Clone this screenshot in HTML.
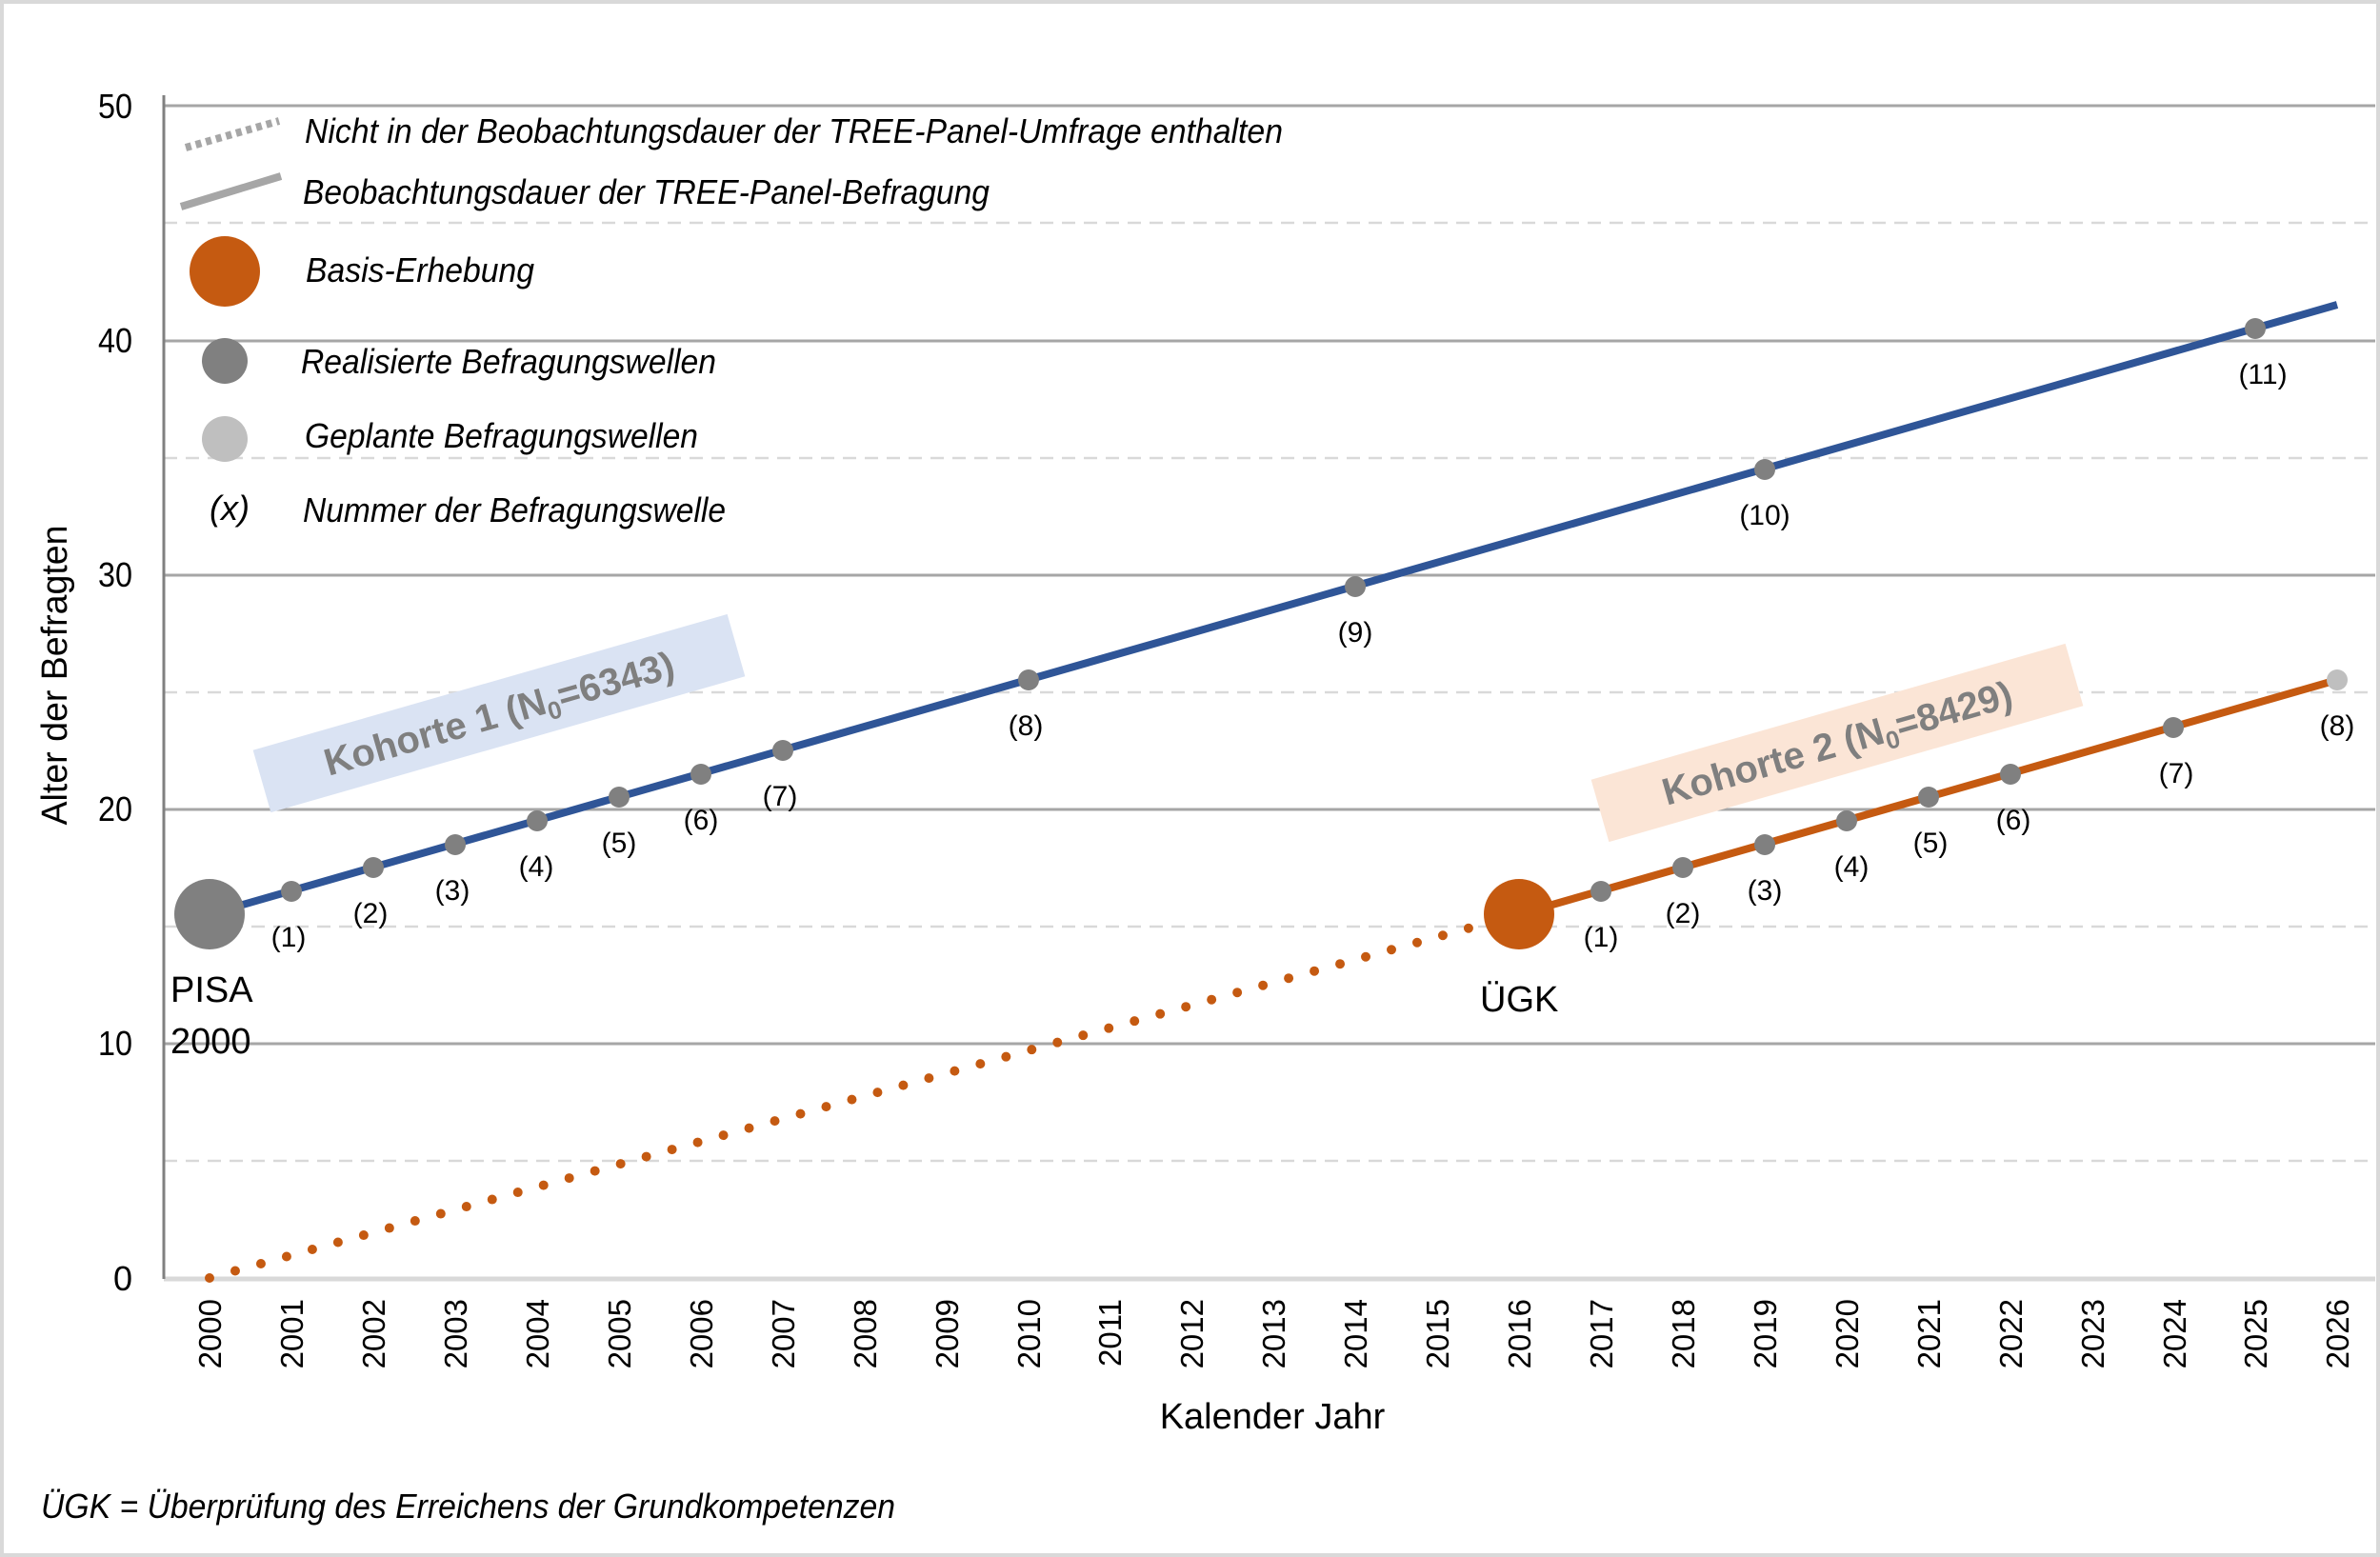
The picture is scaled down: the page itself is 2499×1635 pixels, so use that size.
<!DOCTYPE html>
<html><head><meta charset="utf-8"><style>
html,body{margin:0;padding:0;background:#fff}
svg{display:block}
.n{font-family:"Liberation Sans Narrow","Liberation Sans",sans-serif}
</style></head><body>
<svg width="2499" height="1635" viewBox="0 0 2499 1635" xmlns="http://www.w3.org/2000/svg">
<rect x="2" y="2" width="2495" height="1631" fill="#fff" stroke="#d9d9d9" stroke-width="4"/>
<g stroke="#d9d9d9" stroke-width="2.5" stroke-dasharray="14 9">
<line x1="172" x2="2494" y1="1219" y2="1219"/>
<line x1="172" x2="2494" y1="973" y2="973"/>
<line x1="172" x2="2494" y1="727" y2="727"/>
<line x1="172" x2="2494" y1="481" y2="481"/>
<line x1="172" x2="2494" y1="234" y2="234"/>
</g>
<g stroke="#a6a6a6" stroke-width="3">
<line x1="172" x2="2494" y1="1096" y2="1096"/>
<line x1="172" x2="2494" y1="850" y2="850"/>
<line x1="172" x2="2494" y1="604" y2="604"/>
<line x1="172" x2="2494" y1="358" y2="358"/>
<line x1="172" x2="2494" y1="111" y2="111"/>
</g>
<line x1="172" x2="2494" y1="1343" y2="1343" stroke="#d9d9d9" stroke-width="5"/>
<line x1="172" x2="172" y1="100" y2="1343" stroke="#808080" stroke-width="3"/>
<g class="n" font-size="36" text-anchor="end" fill="#000">
<text x="139" y="1355">0</text><text x="139" y="1108" textLength="36" lengthAdjust="spacingAndGlyphs">10</text><text x="139" y="862" textLength="36" lengthAdjust="spacingAndGlyphs">20</text>
<text x="139" y="616" textLength="36" lengthAdjust="spacingAndGlyphs">30</text><text x="139" y="370" textLength="36" lengthAdjust="spacingAndGlyphs">40</text><text x="139" y="124" textLength="36" lengthAdjust="spacingAndGlyphs">50</text>
</g>
<text class="n" font-size="38" transform="translate(70,709) rotate(-90)" text-anchor="middle" textLength="315" lengthAdjust="spacingAndGlyphs">Alter der Befragten</text>
<g font-family="Liberation Sans,sans-serif" font-size="33" text-anchor="end">
<text transform="translate(232,1364) rotate(-90)">2000</text>
<text transform="translate(318,1364) rotate(-90)">2001</text>
<text transform="translate(404,1364) rotate(-90)">2002</text>
<text transform="translate(490,1364) rotate(-90)">2003</text>
<text transform="translate(576,1364) rotate(-90)">2004</text>
<text transform="translate(662,1364) rotate(-90)">2005</text>
<text transform="translate(748,1364) rotate(-90)">2006</text>
<text transform="translate(834,1364) rotate(-90)">2007</text>
<text transform="translate(920,1364) rotate(-90)">2008</text>
<text transform="translate(1006,1364) rotate(-90)">2009</text>
<text transform="translate(1092,1364) rotate(-90)">2010</text>
<text transform="translate(1177,1364) rotate(-90)">2011</text>
<text transform="translate(1263,1364) rotate(-90)">2012</text>
<text transform="translate(1349,1364) rotate(-90)">2013</text>
<text transform="translate(1435,1364) rotate(-90)">2014</text>
<text transform="translate(1521,1364) rotate(-90)">2015</text>
<text transform="translate(1607,1364) rotate(-90)">2016</text>
<text transform="translate(1693,1364) rotate(-90)">2017</text>
<text transform="translate(1779,1364) rotate(-90)">2018</text>
<text transform="translate(1865,1364) rotate(-90)">2019</text>
<text transform="translate(1951,1364) rotate(-90)">2020</text>
<text transform="translate(2037,1364) rotate(-90)">2021</text>
<text transform="translate(2123,1364) rotate(-90)">2022</text>
<text transform="translate(2209,1364) rotate(-90)">2023</text>
<text transform="translate(2295,1364) rotate(-90)">2024</text>
<text transform="translate(2380,1364) rotate(-90)">2025</text>
<text transform="translate(2466,1364) rotate(-90)">2026</text>
</g>
<text class="n" font-size="38" x="1336" y="1500" text-anchor="middle">Kalender Jahr</text>
<text class="n" font-size="36" font-style="italic" x="43" y="1594" textLength="897" lengthAdjust="spacingAndGlyphs">ÜGK = Überprüfung des Erreichens der Grundkompetenzen</text>
<g transform="translate(524,749) rotate(-16)">
<rect x="-259" y="-34" width="518" height="68" fill="#dae3f3"/>
<text class="n" font-size="40" font-weight="bold" fill="#7f7f7f" text-anchor="middle" y="14">Kohorte 1 (N<tspan font-size="26" dy="8">0</tspan><tspan dy="-8">=6343)</tspan></text>
</g>
<g transform="translate(1929,780) rotate(-16)">
<rect x="-259" y="-34" width="518" height="68" fill="#fbe5d6"/>
<text class="n" font-size="40" font-weight="bold" fill="#7f7f7f" text-anchor="middle" y="14">Kohorte 2 (N<tspan font-size="26" dy="8">0</tspan><tspan dy="-8">=8429)</tspan></text>
</g>
<line x1="220" y1="1342" x2="1595" y2="960" stroke="#c55a11" stroke-width="10" stroke-linecap="round" stroke-dasharray="0 28"/>
<line x1="220" y1="960" x2="2454" y2="320" stroke="#2f5597" stroke-width="8"/>
<line x1="1595" y1="960" x2="2454" y2="714" stroke="#c55a11" stroke-width="8"/>
<circle cx="220" cy="960" r="37" fill="#808080"/>
<circle cx="1595" cy="960" r="37" fill="#c55a11"/>
<g fill="#808080">
<circle cx="306" cy="936" r="11"/><circle cx="392" cy="911" r="11"/><circle cx="478" cy="887" r="11"/>
<circle cx="564" cy="862" r="11"/><circle cx="650" cy="837" r="11"/><circle cx="736" cy="813" r="11"/>
<circle cx="822" cy="788" r="11"/><circle cx="1080" cy="714" r="11"/><circle cx="1423" cy="616" r="11"/>
<circle cx="1853" cy="493" r="11"/><circle cx="2368" cy="345" r="11"/>
<circle cx="1681" cy="936" r="11"/><circle cx="1767" cy="911" r="11"/><circle cx="1853" cy="887" r="11"/>
<circle cx="1939" cy="862" r="11"/><circle cx="2025" cy="837" r="11"/><circle cx="2111" cy="813" r="11"/>
<circle cx="2282" cy="764" r="11"/>
</g>
<circle cx="2454" cy="714" r="11" fill="#bfbfbf"/>
<g class="n" font-size="30" text-anchor="middle">
<text x="303" y="994">(1)</text><text x="389" y="969">(2)</text><text x="475" y="945">(3)</text>
<text x="563" y="920">(4)</text><text x="650" y="895">(5)</text><text x="736" y="871">(6)</text>
<text x="819" y="846">(7)</text><text x="1077" y="772">(8)</text><text x="1423" y="674">(9)</text>
<text x="1853" y="551">(10)</text><text x="2376" y="403">(11)</text>
<text x="1681" y="994">(1)</text><text x="1767" y="969">(2)</text><text x="1853" y="945">(3)</text>
<text x="1944" y="920">(4)</text><text x="2027" y="895">(5)</text><text x="2114" y="871">(6)</text>
<text x="2285" y="822">(7)</text><text x="2454" y="772">(8)</text>
</g>
<text class="n" font-size="38" x="179" y="1052">PISA</text>
<text class="n" font-size="38" x="179" y="1106">2000</text>
<text class="n" font-size="38" x="1554" y="1062">ÜGK</text>
<line x1="195" y1="155" x2="293" y2="127" stroke="#a6a6a6" stroke-width="8" stroke-dasharray="6 5"/>
<line x1="190" y1="217" x2="295" y2="185" stroke="#a6a6a6" stroke-width="8"/>
<circle cx="236" cy="285" r="37" fill="#c55a11"/>
<circle cx="236" cy="379" r="24" fill="#808080"/>
<circle cx="236" cy="461" r="24" fill="#bfbfbf"/>
<g class="n" font-size="36" font-style="italic" lengthAdjust="spacingAndGlyphs">
<text x="220" y="546">(x)</text>
<text x="320" y="150" textLength="1027" lengthAdjust="spacingAndGlyphs">Nicht in der Beobachtungsdauer der TREE-Panel-Umfrage enthalten</text>
<text x="318" y="214" textLength="721" lengthAdjust="spacingAndGlyphs">Beobachtungsdauer der TREE-Panel-Befragung</text>
<text x="321" y="296" textLength="240" lengthAdjust="spacingAndGlyphs">Basis-Erhebung</text>
<text x="316" y="392" textLength="436" lengthAdjust="spacingAndGlyphs">Realisierte Befragungswellen</text>
<text x="320" y="470" textLength="413" lengthAdjust="spacingAndGlyphs">Geplante Befragungswellen</text>
<text x="318" y="548" textLength="444" lengthAdjust="spacingAndGlyphs">Nummer der Befragungswelle</text>
</g>
</svg>
</body></html>
